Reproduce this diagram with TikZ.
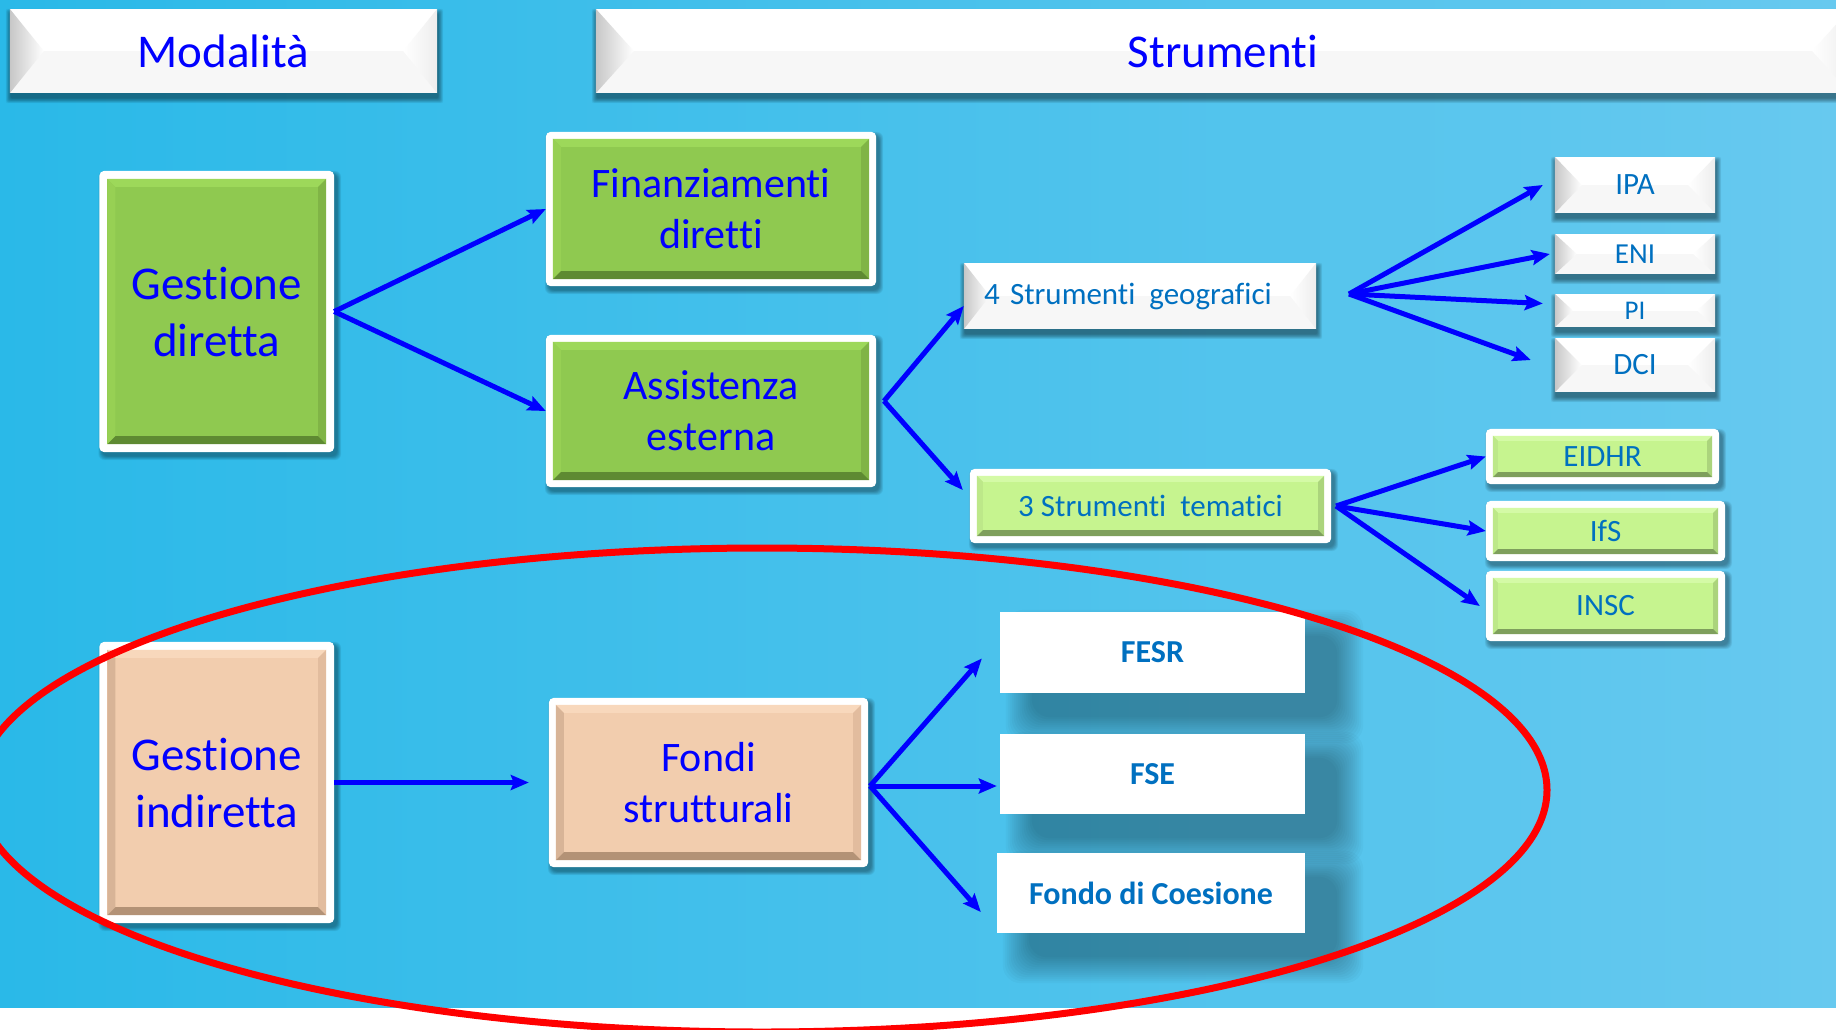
\documentclass[tikz,border=0pt]{standalone}
\usepackage{fontspec}
\setmainfont[Ligatures=NoCommon,RawFeature={-liga;-clig;-calt}]{Carlito}
\usetikzlibrary{arrows.meta,calc}
\definecolor{tblue}{HTML}{0000FF}
\definecolor{sblue}{HTML}{0070C0}
\definecolor{bgL}{HTML}{2AB9E8}
\definecolor{bgR}{HTML}{67C9EF}
% green bevel
\definecolor{gmain}{HTML}{8FC950}
\definecolor{gtop}{HTML}{9DD85A}
\definecolor{gleft}{HTML}{97D054}
\definecolor{gright}{HTML}{80B446}
\definecolor{gbot}{HTML}{5E8A32}
% peach bevel
\definecolor{pmain}{HTML}{F2CDAE}
\definecolor{ptop}{HTML}{F8D8BC}
\definecolor{pleft}{HTML}{D8B497}
\definecolor{pright}{HTML}{E2BC9E}
\definecolor{pbot}{HTML}{B39276}
% light green bevel
\definecolor{lmain}{HTML}{C6F48F}
\definecolor{ltop}{HTML}{D4FAA6}
\definecolor{lleft}{HTML}{BDE889}
\definecolor{lright}{HTML}{ABD47C}
\definecolor{lbot}{HTML}{7E9F5C}
\pgfdeclarelayer{bgl}
\pgfdeclarelayer{deco}
\pgfsetlayers{bgl,deco,main}
% soft shadow: node, dx, dy (down), blur, opacity per layer, corner radius
\newcommand{\MySoftShadow}[6]{%
  \foreach \k in {0,...,13}{%
    \pgfmathsetmacro{\ex}{#4*(1-\k/13)}%
    \fill[black, opacity=#5, rounded corners=#6]
      ([xshift={#2pt-\ex pt}, yshift={-#3pt+\ex pt}]#1.north west) rectangle
      ([xshift={#2pt+\ex pt}, yshift={-#3pt-\ex pt}]#1.south east);
  }%
}
% bevelled box with white border: node, colour prefix, border, bevel
\newcommand{\MyBevelBox}[4]{%
  \MySoftShadow{#1}{3}{4}{4}{0.028}{6pt}
  \fill[white, rounded corners=5pt] (#1.north west) rectangle (#1.south east);
  \coordinate (#1pA) at ([xshift=#3,yshift=-#3]#1.north west);
  \coordinate (#1pC) at ([xshift=-#3,yshift=#3]#1.south east);
  \coordinate (#1pB) at (#1pA -| #1pC);
  \coordinate (#1pD) at (#1pA |- #1pC);
  \coordinate (#1qA) at ([xshift=#4,yshift=-#4]#1pA);
  \coordinate (#1qB) at ([xshift=-#4,yshift=-#4]#1pB);
  \coordinate (#1qC) at ([xshift=-#4,yshift=#4]#1pC);
  \coordinate (#1qD) at ([xshift=#4,yshift=#4]#1pD);
  \fill[#2main] (#1pA) rectangle (#1pC);
  \fill[#2top] (#1pA) -- (#1pB) -- (#1qB) -- (#1qA) -- cycle;
  \fill[#2left] (#1pA) -- (#1qA) -- (#1qD) -- (#1pD) -- cycle;
  \fill[#2right] (#1pB) -- (#1pC) -- (#1qC) -- (#1qB) -- cycle;
  \fill[#2bot] (#1pD) -- (#1qD) -- (#1qC) -- (#1pC) -- cycle;
}
% white angled bevel box: node, bevel width
\newcommand{\MyWhiteBevel}[2]{%
  \MySoftShadow{#1}{1}{5}{5}{0.036}{2pt}
  \fill[white] (#1.north west) rectangle (#1.south east);
  \fill[black!3] (#1.west) rectangle (#1.south east);
  \shade[left color=black!22, right color=white]
    (#1.north west) -- ([xshift=#2]#1.west) -- (#1.south west) -- cycle;
  \shade[left color=white, right color=black!7]
    (#1.north east) -- ([xshift=-#2]#1.east) -- (#1.south east) -- cycle;
}
\tikzset{
  boxn/.style={rectangle, inner sep=0pt, align=center},
  bigtxt/.style={font=\fontsize{47}{57}\selectfont, text=tblue},
  midtxt/.style={font=\fontsize{42}{51}\selectfont, text=tblue},
  smtxt/.style={font=\fontsize{31}{37}\selectfont, text=sblue},
  fundtxt/.style={font=\bfseries\fontsize{32}{38}\selectfont, text=sblue},
  arr/.style={draw=tblue, line width=5pt, -{Stealth[length=18pt,width=15pt,inset=3pt]}},
}
\begin{document}
\begin{tikzpicture}[x=1pt,y=-1pt]
\useasboundingbox (0,0) rectangle (1836,1029);
\begin{pgfonlayer}{bgl}
  \fill[left color=bgL, right color=bgR] (0,0) rectangle (1836,1008);
  \fill[white] (0,1008) rectangle (1836,1029);
\end{pgfonlayer}

% headers
\node[boxn, bigtxt, minimum width=427pt, minimum height=84pt] (mod) at (223.5,51) {Modalità};
\node[boxn, bigtxt, minimum width=1254pt, minimum height=84pt] (str) at (1223,51) {Strumenti};

% main boxes
\node[boxn, bigtxt, minimum width=234.5pt, minimum height=281pt] (gd) at (216.75,311.5) {Gestione\\diretta};
\node[boxn, midtxt, minimum width=330pt, minimum height=154pt] (fd) at (711,209) {Finanziamenti\\diretti};
\node[boxn, midtxt, minimum width=330pt, minimum height=152pt] (ae) at (711,411) {Assistenza\\esterna};
\node[boxn, bigtxt, minimum width=234.5pt, minimum height=281pt] (gi) at (216.75,782.5) {Gestione\\indiretta};
\node[boxn, midtxt, minimum width=319pt, minimum height=169pt] (fs) at (708.5,782.5) {Fondi\\strutturali};

% instruments
\node[boxn, smtxt, text width=312pt, inner xsep=20pt, align=left, minimum height=66pt] (geo) at (1140,296) {4 Strumenti\hspace{0.45em}geografici};
\node[boxn, smtxt, minimum width=361pt, minimum height=74pt] (tem) at (1150.5,506) {3 Strumenti\hspace{0.45em}tematici};
\node[boxn, smtxt, minimum width=160pt, minimum height=56pt] (ipa) at (1635,185) {IPA};
\node[boxn, smtxt, font=\fontsize{29}{35}\selectfont, minimum width=160pt, minimum height=40pt] (eni) at (1635,254) {ENI};
\node[boxn, smtxt, font=\fontsize{27}{32}\selectfont, minimum width=160pt, minimum height=33pt] (pi) at (1635,310.5) {PI};
\node[boxn, smtxt, minimum width=160pt, minimum height=54pt] (dci) at (1635,365) {DCI};
\node[boxn, smtxt, minimum width=233pt, minimum height=55pt] (eidhr) at (1602.5,456.5) {EIDHR};
\node[boxn, smtxt, minimum width=239pt, minimum height=60pt] (ifs) at (1605.5,531) {IfS};
\node[boxn, smtxt, minimum width=239pt, minimum height=70pt] (insc) at (1605.5,606) {INSC};
\node[boxn, fundtxt, minimum width=305pt, minimum height=81pt] (fesr) at (1152.5,652.5) {FESR};
\node[boxn, fundtxt, minimum width=305pt, minimum height=80pt] (fse) at (1152.5,774) {FSE};
\node[boxn, fundtxt, minimum width=308pt, minimum height=80pt] (fdc) at (1151,893) {Fondo di Coesione};

\begin{pgfonlayer}{deco}
  \MyWhiteBevel{mod}{34pt}
  \MyWhiteBevel{str}{38pt}
  \MyBevelBox{gd}{g}{8pt}{8pt}
  \MyBevelBox{fd}{g}{7pt}{8pt}
  \MyBevelBox{ae}{g}{7pt}{8pt}
  \MyBevelBox{gi}{p}{8pt}{8pt}
  \MyBevelBox{fs}{p}{7pt}{8pt}
  \MyWhiteBevel{geo}{26pt}
  \MyBevelBox{tem}{l}{7pt}{6pt}
  \MyWhiteBevel{ipa}{27pt}
  \MyWhiteBevel{eni}{22pt}
  \MyWhiteBevel{pi}{18pt}
  \MyWhiteBevel{dci}{27pt}
  \MyBevelBox{eidhr}{l}{7pt}{5pt}
  \MyBevelBox{ifs}{l}{7pt}{5pt}
  \MyBevelBox{insc}{l}{7pt}{5pt}
  \MySoftShadow{fesr}{32}{24}{26}{0.025}{18pt}
  \MySoftShadow{fse}{32}{24}{26}{0.025}{18pt}
  \MySoftShadow{fdc}{32}{24}{26}{0.025}{18pt}
  \fill[white] (fesr.north west) rectangle (fesr.south east);
  \fill[white] (fse.north west) rectangle (fse.south east);
  \fill[white] (fdc.north west) rectangle (fdc.south east);
\end{pgfonlayer}

% fan origins
\coordinate (aefan) at (884,401);
\coordinate (gfan) at (1349,294);
\coordinate (tfan) at (1336,506);
\coordinate (ffan) at (870,786);

% connectors
\draw[arr] (gd.east) -- (fd.west);
\draw[arr] (gd.east) -- (ae.west);
\draw[arr] (aefan) -- ([yshift=-10pt]geo.west);
\draw[arr] (aefan) -- ([xshift=-7pt,yshift=16pt]tem.west);
\draw[arr] (gfan) -- ([xshift=-12pt]ipa.west);
\draw[arr] (gfan) -- ([xshift=-5pt]eni.west);
\draw[arr] (gfan) -- ([xshift=-12pt,yshift=7pt]pi.west);
\draw[arr] (gfan) -- ([xshift=-24pt,yshift=5pt]dci.west);
\draw[arr] (tfan) -- (eidhr.west);
\draw[arr] (tfan) -- (ifs.west);
\draw[arr] (tfan) -- ([xshift=-6pt]insc.west);
\draw[arr] (gi.east) -- ([xshift=-20pt]fs.west);
\draw[arr] (ffan) -- ([xshift=-18pt,yshift=-6pt]fesr.west);
\draw[arr] (ffan) -- ([xshift=-3pt,yshift=-12pt]fse.west);
\draw[arr] (ffan) -- ([xshift=-16pt,yshift=-19pt]fdc.west);

% red ellipse
\draw[red, line width=7pt] (762,790) ellipse [x radius=785pt, y radius=242pt];
\end{tikzpicture}
\end{document}
